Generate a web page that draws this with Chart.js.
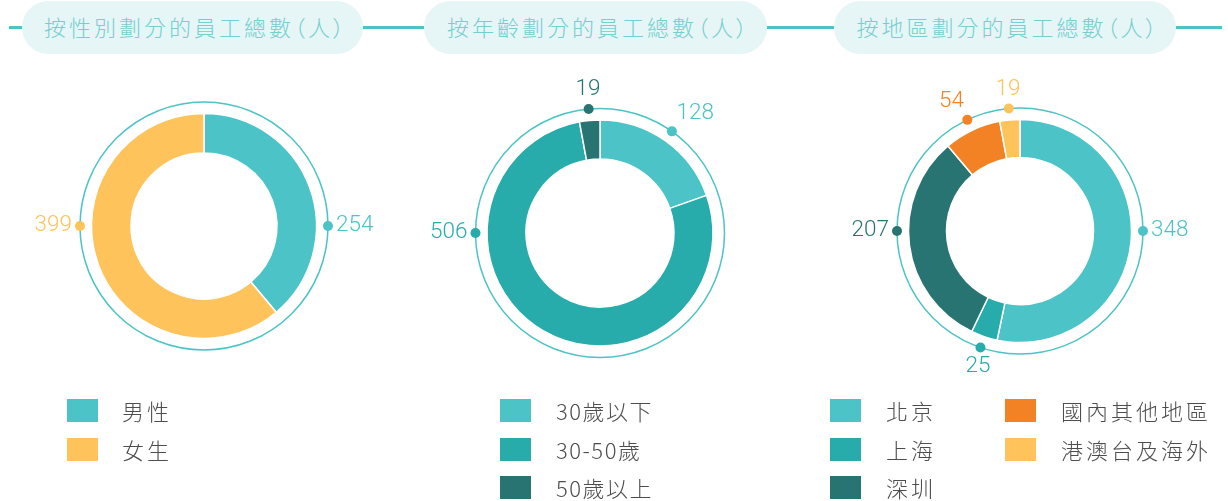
<!DOCTYPE html>
<html>
<head>
<meta charset="utf-8">
<script src="https://cdn.jsdelivr.net/npm/chart.js@4/dist/chart.umd.min.js"></script>
<style>
  html, body { margin: 0; padding: 0; background: #ffffff; }
  body { width: 1228px; height: 501px; position: relative; overflow: hidden;
         font-family: "Noto Sans CJK TC", "Noto Sans", sans-serif; }
  .hline { position: absolute; left: 9px; width: 1213px; top: 26px; height: 3px; background: #4bc3c7; z-index: 2; }
  .pill { position: absolute; top: 1px; height: 53px; border-radius: 27px; background: #e6f5f5;
          z-index: 3; display: flex; align-items: center; justify-content: center;
          color: #74cfd0; font-size: 22px; font-weight: 300; letter-spacing: 3px;
          font-feature-settings: "palt"; padding-left: 6px; padding-bottom: 3px; box-sizing: border-box; white-space: nowrap; }
  canvas.donut { position: absolute; z-index: 1; }
  .legend { position: absolute; z-index: 3; }
  .lg-item { position: absolute; height: 23px; white-space: nowrap; }
  .lg-box { position: absolute; left: 0; top: 0; width: 31px; height: 23px; }
  .lg-text { position: absolute; top: -3px; line-height: 29px; font-size: 22px; font-weight: 300;
             color: #4d4d4d; letter-spacing: 3px; }
  .lg-text.num { letter-spacing: 1.5px; }
</style>
</head>
<body>
<div class="hline"></div>
<div id="root"></div>
<script>
// ---------- data ----------
const chartTitles = ['按性別劃分的員工總數（人）', '按年齡劃分的員工總數（人）', '按地區劃分的員工總數（人）'];

const genderLabels = ['男性', '女生'];
const genderValues = [254, 399];

const ageLabels = ['30歲以下', '30-50歲', '50歲以上'];
const ageValues = [128, 506, 19];

const regionLabels = ['北京', '上海', '深圳', '國內其他地區', '港澳台及海外'];
const regionValues = [348, 25, 207, 54, 19];

// ---------- styles ----------
const C_LIGHT = '#4bc3c7', C_MID = '#27abab', C_DARK = '#287473', C_YEL = '#fec35b', C_ORG = '#f28223';
const genderColors = [C_LIGHT, C_YEL];
const ageColors = [C_LIGHT, C_MID, C_DARK];
const regionColors = [C_LIGHT, C_MID, C_DARK, C_ORG, C_YEL];

const panels = [
  { title: chartTitles[0], labels: genderLabels, values: genderValues, colors: genderColors,
    pill: [22, 341], center: [204, 226], radius: 112.5, hole: 73,
    legend: { left: 67, top: 399, rowsPerCol: 3, colGap: 175 } },
  { title: chartTitles[1], labels: ageLabels, values: ageValues, colors: ageColors,
    pill: [424, 343], center: [600, 233], radius: 113, hole: 74,
    legend: { left: 500, top: 399, rowsPerCol: 3, colGap: 175 } },
  { title: chartTitles[2], labels: regionLabels, values: regionValues, colors: regionColors,
    pill: [834, 342], center: [1020, 231], radius: 111.5, hole: 73.5,
    legend: { left: 830, top: 399, rowsPerCol: 3, colGap: 175 } }
];

const CW = 400, CH = 360;

const ringLabelPlugin = {
  id: 'ringLabels',
  afterDatasetsDraw(chart) {
    const ctx = chart.ctx;
    const meta = chart.getDatasetMeta(0);
    const ds = chart.data.datasets[0];
    if (!meta.data.length) return;
    const cx = meta.data[0].x, cy = meta.data[0].y;
    const ringR = meta.data[0].outerRadius + 11.5;
    ctx.save();
    ctx.beginPath();
    ctx.arc(cx, cy, ringR, 0, Math.PI * 2);
    ctx.strokeStyle = C_LIGHT;
    ctx.lineWidth = 1.5;
    ctx.stroke();
    meta.data.forEach((arc, i) => {
      const s = arc.startAngle, e = arc.endAngle;
      let a = (s + e) / 2;
      if (e - s > 100 * Math.PI / 180) {
        const cands = [0, Math.PI].filter(c => c >= s && c <= e);
        if (cands.length) {
          cands.sort((p, q) => Math.abs(p - a) - Math.abs(q - a));
          a = cands[0];
        }
      }
      const ux = Math.cos(a), uy = Math.sin(a);
      const dx = cx + ux * ringR, dy = cy + uy * ringR;
      const col = ds.backgroundColor[i];
      ctx.beginPath();
      ctx.arc(dx, dy, 5, 0, Math.PI * 2);
      ctx.fillStyle = col;
      ctx.fill();
      // text
      ctx.font = '300 22.5px Roboto, "Liberation Sans", sans-serif';
      ctx.fillStyle = col;
      ctx.textAlign = Math.abs(ux) < 0.35 ? 'center' : (ux > 0 ? 'left' : 'right');
      ctx.textBaseline = uy < -0.5 ? 'bottom' : (uy > 0.5 ? 'top' : 'middle');
      const tx = dx + ux * 8, ty = dy + uy * 8 + (ctx.textBaseline === 'middle' ? -1 : 0);
      ctx.fillText(String(ds.data[i]), tx, ty);
    });
    ctx.restore();
  }
};

const root = document.getElementById('root');
panels.forEach((p, idx) => {
  // title pill
  const pill = document.createElement('div');
  pill.className = 'pill';
  pill.style.left = p.pill[0] + 'px';
  pill.style.width = p.pill[1] + 'px';
  pill.textContent = p.title;
  root.appendChild(pill);

  // canvas
  const cv = document.createElement('canvas');
  cv.className = 'donut';
  cv.width = CW; cv.height = CH;
  cv.style.width = CW + 'px'; cv.style.height = CH + 'px';
  cv.style.left = (p.center[0] - CW / 2) + 'px';
  cv.style.top = (p.center[1] - CH / 2) + 'px';
  root.appendChild(cv);

  const chart = new Chart(cv.getContext('2d'), {
    type: 'doughnut',
    data: {
      labels: p.labels,
      datasets: [{
        data: p.values,
        backgroundColor: p.colors,
        borderColor: '#ffffff',
        borderWidth: 1.5,
        hoverOffset: 0
      }]
    },
    options: {
      responsive: false,
      animation: false,
      radius: p.radius,
      cutout: (p.hole / p.radius * 100).toFixed(2) + '%',
      layout: { padding: 0 },
      plugins: { legend: { display: false }, tooltip: { enabled: false } },
      events: []
    },
    plugins: [ringLabelPlugin]
  });

  // html legend from chart data
  const lg = document.createElement('div');
  lg.className = 'legend';
  lg.style.left = p.legend.left + 'px';
  lg.style.top = p.legend.top + 'px';
  chart.data.labels.forEach((lab, i) => {
    const col = Math.floor(i / p.legend.rowsPerCol), row = i % p.legend.rowsPerCol;
    const item = document.createElement('div');
    item.className = 'lg-item';
    item.style.left = (col * p.legend.colGap) + 'px';
    item.style.top = (row * 38.5) + 'px';
    const box = document.createElement('div');
    box.className = 'lg-box';
    box.style.background = chart.data.datasets[0].backgroundColor[i];
    const tx = document.createElement('div');
    tx.className = 'lg-text' + (/\d/.test(lab) ? ' num' : '');
    tx.style.left = (idx === 0 ? 55 : 56) + 'px';
    tx.textContent = lab;
    item.appendChild(box); item.appendChild(tx);
    lg.appendChild(item);
  });
  root.appendChild(lg);
});
</script>
</body>
</html>
